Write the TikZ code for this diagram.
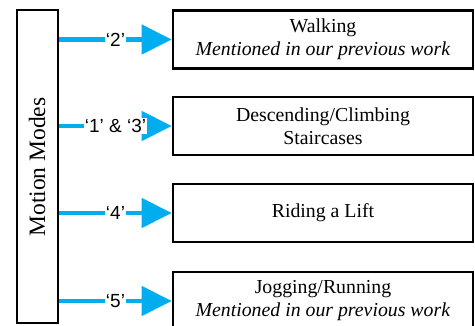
\documentclass[tikz,border=0pt]{standalone}
\usepackage{fontspec}
\setmainfont{Liberation Serif}
\newfontfamily\lblfont{Liberation Sans}
\usetikzlibrary{arrows.meta}
\definecolor{arrowcyan}{RGB}{0,174,239}
\begin{document}
\begin{tikzpicture}[x=1pt,y=-1pt,
  modebox/.style={draw=black,line width=2.6pt,minimum width=300pt,minimum height=58pt,
    inner sep=0pt,align=center,font=\fontsize{19.8}{23}\selectfont},
  sidebox/.style={draw=black,line width=2.6pt,minimum width=41pt,minimum height=313pt,inner sep=0pt},
  conn/.style={arrowcyan,line width=4.5pt,-{Triangle[length=30pt,width=29pt]}},
  lbl/.style={fill=white,inner sep=1pt,text=black,font=\lblfont\fontsize{19}{21}\selectfont}]
\clip (0,0) rectangle (475,326);
\node[sidebox] (lb) at (37.5,166.5) {};
\node[rotate=90,font=\fontsize{23.5}{25}\selectfont] (lbt) at (37,167) {Motion Modes};
\node[modebox] (b1) at (323,39.5) {Walking\\\textit{Mentioned in our previous work}};
\node[modebox] (b2) at (323,126) {Descending/Climbing\\Staircases};
\node[modebox] (b3) at (323,213) {Riding a Lift};
\node[modebox] (b4) at (323,301) {Jogging/Running\\\textit{Mentioned in our previous work}};
\draw[conn] (lb.east |- b1.west) -- node[lbl] (l1) {‘2’} (b1.west);
\draw[conn] (lb.east |- b2.west) -- node[lbl] (l2) {‘1’ \& ‘3’} (b2.west);
\draw[conn] (lb.east |- b3.west) -- node[lbl] (l3) {‘4’} (b3.west);
\draw[conn] (lb.east |- b4.west) -- node[lbl] (l4) {‘5’} (b4.west);
\end{tikzpicture}
\end{document}
